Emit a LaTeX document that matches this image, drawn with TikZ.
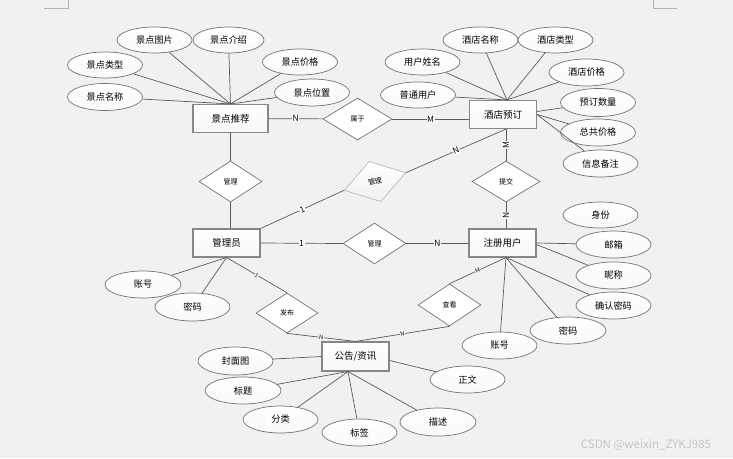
\documentclass[tikz,border=0pt]{standalone}
\usepackage{fontspec}
\usepackage{tikz}
\usetikzlibrary{shapes,calc}
\newfontfamily\cjk{Noto Sans CJK SC}
\definecolor{bg}{RGB}{241,241,241}
\definecolor{ln}{RGB}{90,90,90}
\definecolor{bd}{RGB}{115,115,115}
\definecolor{eb}{RGB}{135,135,135}

\begin{document}
\begin{tikzpicture}[x=1pt,y=-1pt,
                line/.style={draw=ln,line width=0.7pt},
                entity node/.style={rectangle,draw=eb,line width=1.1pt,top color=white,bottom color=gray!6,minimum width=67pt,minimum height=28pt,inner sep=0pt,font=\cjk\fontsize{9.5}{11}\selectfont},
                attr node/.style={ellipse,draw=bd,line width=0.7pt,top color=white,bottom color=gray!5,minimum width=75pt,minimum height=27pt,inner sep=0pt,font=\cjk\fontsize{9.2}{11}\selectfont},
                rel node/.style={diamond,draw=bd,line width=0.7pt,fill=white,minimum width=63pt,minimum height=41pt,inner sep=0pt,font=\cjk\fontsize{7}{8}\selectfont},
                num node/.style={fill=white,inner sep=0.6pt,font=\cjk\fontsize{8.5}{9}\selectfont},
                small num/.style={fill=white,inner sep=0.3pt,font=\cjk\fontsize{6}{7}\selectfont,sloped}]
            \path[use as bounding box,fill=bg] (0,0) rectangle (733,458);
            \draw[gray!60,line width=0.6pt] (44,8) -- (68,8) -- (68,0);
            \draw[gray!60,line width=0.6pt] (653,0) -- (653,8) -- (677,8);

            % entities
            \node[entity node,minimum width=75pt] (jd) at (230.5,118.5) {景点推荐};
            \node[entity node] (jh) at (503,114.5) {酒店预订};
            \node[entity node] (gly) at (226.5,243) {管理员};
            \node[entity node] (zc) at (502.5,243) {注册用户};
            \node[entity node,minimum height=29pt] (gg) at (355.5,356.5) {公告/资讯};

            % relations
            \node[rel node,minimum width=69pt,minimum height=42pt] (sy) at (357.5,119) {属于};
            \node[rel node] (gl1) at (230.5,181.5) {管理};
            \node[rel node,rotate=16,draw=gray!55,top color=white,bottom color=gray!12,minimum width=64pt,minimum height=42pt] (gl2) at (375,181.5) {管理};
            \node[rel node,minimum width=68pt] (tj) at (506,181.5) {提交};
            \node[rel node] (gl3) at (374.5,243.5) {管理};
            \node[rel node,minimum width=62pt,minimum height=40pt] (fb) at (287,313) {发布};
            \node[rel node,minimum height=42pt] (ck) at (449.5,305) {查看};

            % attributes
            \node[attr node,minimum height=26pt] (jd1) at (154.5,40) {景点图片};
            \node[attr node,minimum width=71pt,minimum height=26pt] (jd2) at (228.5,40) {景点介绍};
            \node[attr node,minimum height=26pt] (jd3) at (105,65) {景点类型};
            \node[attr node,minimum height=26pt] (jd4) at (300,62) {景点价格};
            \node[attr node] (jd5) at (105,97) {景点名称};
            \node[attr node] (jd6) at (312,92.5) {景点位置};

            \node[attr node,minimum height=26pt] (jh1) at (480.5,40) {酒店名称};
            \node[attr node,minimum height=26pt] (jh2) at (555.5,40) {酒店类型};
            \node[attr node,minimum height=26pt] (jh3) at (422.5,62) {用户姓名};
            \node[attr node] (jh4) at (586.5,72.5) {酒店价格};
            \node[attr node,minimum height=26pt] (jh5) at (418,95) {普通用户};
            \node[attr node,minimum height=28pt] (jh6) at (598,102.5) {预订数量};
            \node[attr node] (jh7) at (598,132.5) {总共价格};
            \node[attr node] (jh8) at (600.5,163.5) {信息备注};

            \node[attr node,minimum width=76pt] (gly1) at (143,284.5) {账号};
            \node[attr node,minimum height=28pt] (gly2) at (192.5,307) {密码};

            \node[attr node,minimum height=26pt] (zc1) at (600.5,215) {身份};
            \node[attr node] (zc2) at (613.5,244.5) {邮箱};
            \node[attr node] (zc3) at (613.5,275.5) {昵称};
            \node[attr node] (zc4) at (613.5,305.5) {确认密码};
            \node[attr node,minimum width=76pt] (zc5) at (568,330.5) {密码};
            \node[attr node] (zc6) at (499.5,345.5) {账号};

            \node[attr node,minimum height=28pt] (gg1) at (235.5,361) {封面图};
            \node[attr node,minimum width=76pt] (gg2) at (243,390.5) {标题};
            \node[attr node] (gg3) at (280.5,419.5) {分类};
            \node[attr node] (gg4) at (359.5,432.5) {标签};
            \node[attr node,minimum width=76pt,minimum height=28pt] (gg5) at (438,422) {描述};
            \node[attr node] (gg6) at (467.5,379.5) {正文};

            \node[font=\cjk\fontsize{11.5}{12}\selectfont,text=gray!45] (wm) at (646,445) {CSDN @weixin\_ZYKJ985};

            % relation lines
            \path[line]
                (jd) edge node[num node] {N} (sy)
                (sy.east) edge node[num node] {M} (sy.east -| jh.west)
                (jd.south) edge (gl1.north)
                (gl1.south) edge (gl1.south |- gly.north)
                (gly.north east) edge node[num node,sloped] {1} (gl2.west)
                (gl2.east) edge node[num node,sloped] {N} ([xshift=3pt]jh.south)
                (tj.north) edge node[num node,rotate=90] {M} ([xshift=3pt]jh.south)
                ([xshift=3.5pt]zc.north) edge node[num node,rotate=90] {N} (tj.south)
                (gly.east) edge node[num node] {1} (gl3.west)
                (gl3.east) edge node[num node] {N} (gl3.east -| zc.west)
                (gly.south) edge node[small num] {1} (fb.north)
                (fb.south) edge node[small num] {N} (gg.north)
                (ck.south) edge node[small num] {N} (gg.north)
                (ck.north) edge node[small num] {M} ([xshift=3.5pt]zc.south);

            % attribute lines
            \path[line]
                (jd1) edge (jd.north) (jd2) edge (jd.north) (jd3) edge (jd.north)
                (jd4) edge (jd.north) (jd5) edge (jd.north) (jd6) edge (jd.north)
                (jh1) edge ([xshift=4pt]jh.north) (jh2) edge ([xshift=4pt]jh.north)
                (jh3) edge ([xshift=4pt]jh.north) (jh4) edge ([xshift=4pt]jh.north)
                (jh5) edge ([xshift=4pt]jh.north)
                (jh6) edge ([yshift=3pt]jh.east) (jh7) edge (jh.east) (jh8) edge (jh.east)
                (gly1) edge (gly.south) (gly2) edge (gly.south)
                (zc2) edge (zc.east) (zc3) edge ([yshift=-1.5pt]zc.east)
                (zc4) edge ([xshift=3.5pt]zc.south) (zc5) edge ([xshift=3.5pt]zc.south)
                (zc6) edge ([xshift=3.5pt]zc.south)
                (gg1) edge (gg.west)
                (gg2) edge ([xshift=-7.5pt]gg.south) (gg3) edge ([xshift=-7.5pt]gg.south)
                (gg4) edge ([xshift=-7.5pt]gg.south) (gg5) edge ([xshift=-7.5pt]gg.south)
                (gg6) edge ([yshift=-4pt]gg.east);
        \end{tikzpicture}
\end{document}
